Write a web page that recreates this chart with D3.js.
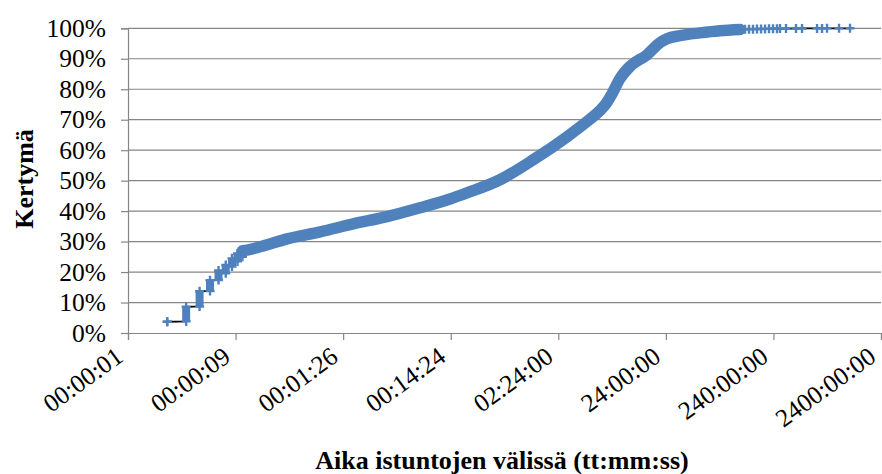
<!DOCTYPE html>
<html>
<head>
<meta charset="utf-8">
<script src="https://cdn.jsdelivr.net/npm/d3@7"></script>
<style>
  body { margin: 0; background: #fff; }
  svg text { font-family: "Liberation Serif", "Tinos", "Times New Roman", "Nimbus Roman", "DejaVu Serif", serif; fill: #000; }
</style>
</head>
<body>
<svg id="chart" width="882" height="474"></svg>
<script>
(function() {

  // x axis: log scale in seconds, ticks at 10^-5 ... 10^2 days
  let tickSeconds = [0.864, 8.64, 86.4, 864, 8640, 86400, 864000, 8640000];
  let tickLabels = ["00:00:01", "00:00:09", "00:01:26", "00:14:24",
                    "02:24:00", "24:00:00", "240:00:00", "2400:00:00"];
  let yTicks = [0, 10, 20, 30, 40, 50, 60, 70, 80, 90, 100];

  // first whole seconds: lots of sessions share a second -> a column of points
  let columnSeconds = [2, 3, 4, 5, 6, 7, 8, 9, 10];
  let columnLow  = [3.7, 3.8, 8.7, 13.8, 17.4, 19.6, 21.8, 23.5, 25.0];
  let columnHigh = [3.7, 8.6, 13.7, 17.3, 20.5, 22.3, 24.5, 26.1, 27.0];

  // dense part of the cumulative curve (points so close they merge into a band)
  let curveSeconds = [11, 13, 18, 26, 53, 107, 221, 448, 851, 1223, 2482, 5029,
                      10411, 13755, 17040, 21100, 24010, 27290, 32380, 40120,
                      57720, 76260, 88560, 117100, 179400, 275200, 422200];
  let curveShare   = [27.2, 27.8, 29.2, 30.9, 33.2, 35.8, 38.2, 41.1, 44.0, 46.0,
                      50.3, 56.8, 64.4, 67.6, 70.2, 73.0, 75.3, 78.5, 83.5, 87.5,
                      91.3, 95.3, 96.6, 97.6, 98.5, 99.2, 99.6];

  // the few longest gaps, drawn as single markers
  let tailSeconds = [470400, 512400, 557900, 607600, 663000, 722000, 786200,
                     856200, 932300, 994500, 1131000, 1401000, 1594000,
                     2197000, 2446000, 2720000, 3519000, 4451000];
  let tailShare   = [99.65, 99.7, 99.72, 99.75, 99.78, 99.8, 99.83, 99.85, 99.87,
                     99.9, 99.92, 99.94, 99.95, 99.96, 99.97, 99.98, 99.99, 100];

  let blue = "#4F81BD";
  let gridColor = "#868686";
  let font = "'Liberation Serif', Tinos, 'Times New Roman', 'Nimbus Roman', 'DejaVu Serif', serif";

  let left = 128, right = 881, top = 28.3, bottom = 333;

  let svg = d3.select("#chart");

  let xScale = d3.scaleLog()
                 .domain([tickSeconds[0], tickSeconds[tickSeconds.length - 1]])
                 .range([left, right]);
  let yScale = d3.scaleLinear()
                 .domain([0, 100])
                 .range([bottom, top]);

  // horizontal gridlines
  svg.append("g")
     .selectAll("line")
     .data(yTicks.slice(1))
     .enter()
     .append("line")
     .attr("x1", left)
     .attr("x2", right)
     .attr("y1", d => yScale(d))
     .attr("y2", d => yScale(d))
     .attr("stroke", gridColor)
     .attr("stroke-width", 1.2);

  // y axis
  let yAxis = d3.axisLeft()
                .scale(yScale)
                .tickValues(yTicks)
                .tickSize(7)
                .tickPadding(15)
                .tickFormat(d => d + "%");
  let gy = svg.append("g")
              .attr("transform", "translate(" + left + ",0)")
              .attr("font-family", font)
              .call(yAxis);
  gy.select(".domain").attr("stroke", gridColor).attr("stroke-width", 1.2);
  gy.selectAll(".tick line").attr("stroke", gridColor).attr("stroke-width", 1.2);
  gy.selectAll(".tick text")
    .attr("font-family", font)
    .attr("font-size", "25.5px")
    .attr("fill", "#000");

  // x axis
  let xAxis = d3.axisBottom()
                .scale(xScale)
                .tickValues(tickSeconds)
                .tickSize(7)
                .tickFormat((d, i) => tickLabels[i]);
  let gx = svg.append("g")
              .attr("transform", "translate(0," + bottom + ")")
              .attr("font-family", font)
              .call(xAxis);
  gx.select(".domain").attr("stroke", gridColor).attr("stroke-width", 1.2);
  gx.selectAll(".tick line").attr("stroke", gridColor).attr("stroke-width", 1.2);
  gx.selectAll(".tick text")
    .attr("font-family", font)
    .attr("font-size", "25.5px")
    .attr("fill", "#000")
    .attr("text-anchor", "end")
    .attr("dy", null)
    .attr("y", 0)
    .attr("transform", "translate(-4,27) rotate(-36)");

  // axis titles
  svg.append("text")
     .attr("text-anchor", "middle")
     .attr("x", 502)
     .attr("y", 469)
     .attr("font-family", font)
     .attr("font-size", "26px")
     .attr("font-weight", "bold")
     .text("Aika istuntojen välissä (tt:mm:ss)");
  svg.append("text")
     .attr("text-anchor", "middle")
     .attr("transform", "translate(33,179) rotate(-90)")
     .attr("font-family", font)
     .attr("font-size", "26px")
     .attr("font-weight", "bold")
     .text("Kertymä");

  // black connecting line through every point
  let pts = [];
  columnSeconds.forEach((s, i) => {
    pts.push([s, columnLow[i]]);
    pts.push([s, columnHigh[i]]);
  });
  curveSeconds.forEach((s, i) => pts.push([s, curveShare[i]]));
  tailSeconds.forEach((s, i) => pts.push([s, tailShare[i]]));

  let line = d3.line()
               .x(d => xScale(d[0]))
               .y(d => yScale(d[1]));

  svg.append("path")
     .datum(pts)
     .attr("fill", "none")
     .attr("stroke", "#000")
     .attr("stroke-width", 1.8)
     .attr("d", line);

  // columns of overlapping markers
  svg.append("g")
     .selectAll("line")
     .data(columnSeconds.map((s, i) => [s, columnLow[i], columnHigh[i]]).filter(d => d[2] > d[1]))
     .enter()
     .append("line")
     .attr("x1", d => xScale(d[0]))
     .attr("x2", d => xScale(d[0]))
     .attr("y1", d => yScale(d[1]))
     .attr("y2", d => yScale(d[2]))
     .attr("stroke", blue)
     .attr("stroke-width", 8);

  // dense band of markers
  let band = [[columnSeconds[columnSeconds.length - 1], columnHigh[columnHigh.length - 1]]];
  curveSeconds.forEach((s, i) => band.push([s, curveShare[i]]));
  svg.append("path")
     .datum(band)
     .attr("fill", "none")
     .attr("stroke", blue)
     .attr("stroke-width", 11.5)
     .attr("stroke-linejoin", "round")
     .attr("stroke-linecap", "round")
     .attr("d", d3.line().curve(d3.curveMonotoneX)
                  .x(d => xScale(d[0]))
                  .y(d => yScale(d[1])));

  // "+" markers: column ends and the tail
  let markers = [];
  columnSeconds.forEach((s, i) => {
    markers.push([s, columnLow[i]]);
    markers.push([s, columnHigh[i]]);
  });
  tailSeconds.forEach((s, i) => markers.push([s, tailShare[i]]));

  svg.append("g")
     .selectAll("path")
     .data(markers)
     .enter()
     .append("path")
     .attr("transform", d => "translate(" + xScale(d[0]) + "," + yScale(d[1]) + ")")
     .attr("d", "M-4.5,0H4.5M0,-4.5V4.5")
     .attr("stroke", blue)
     .attr("stroke-width", 2.4)
     .attr("fill", "none");

})();
</script>
</body>
</html>
